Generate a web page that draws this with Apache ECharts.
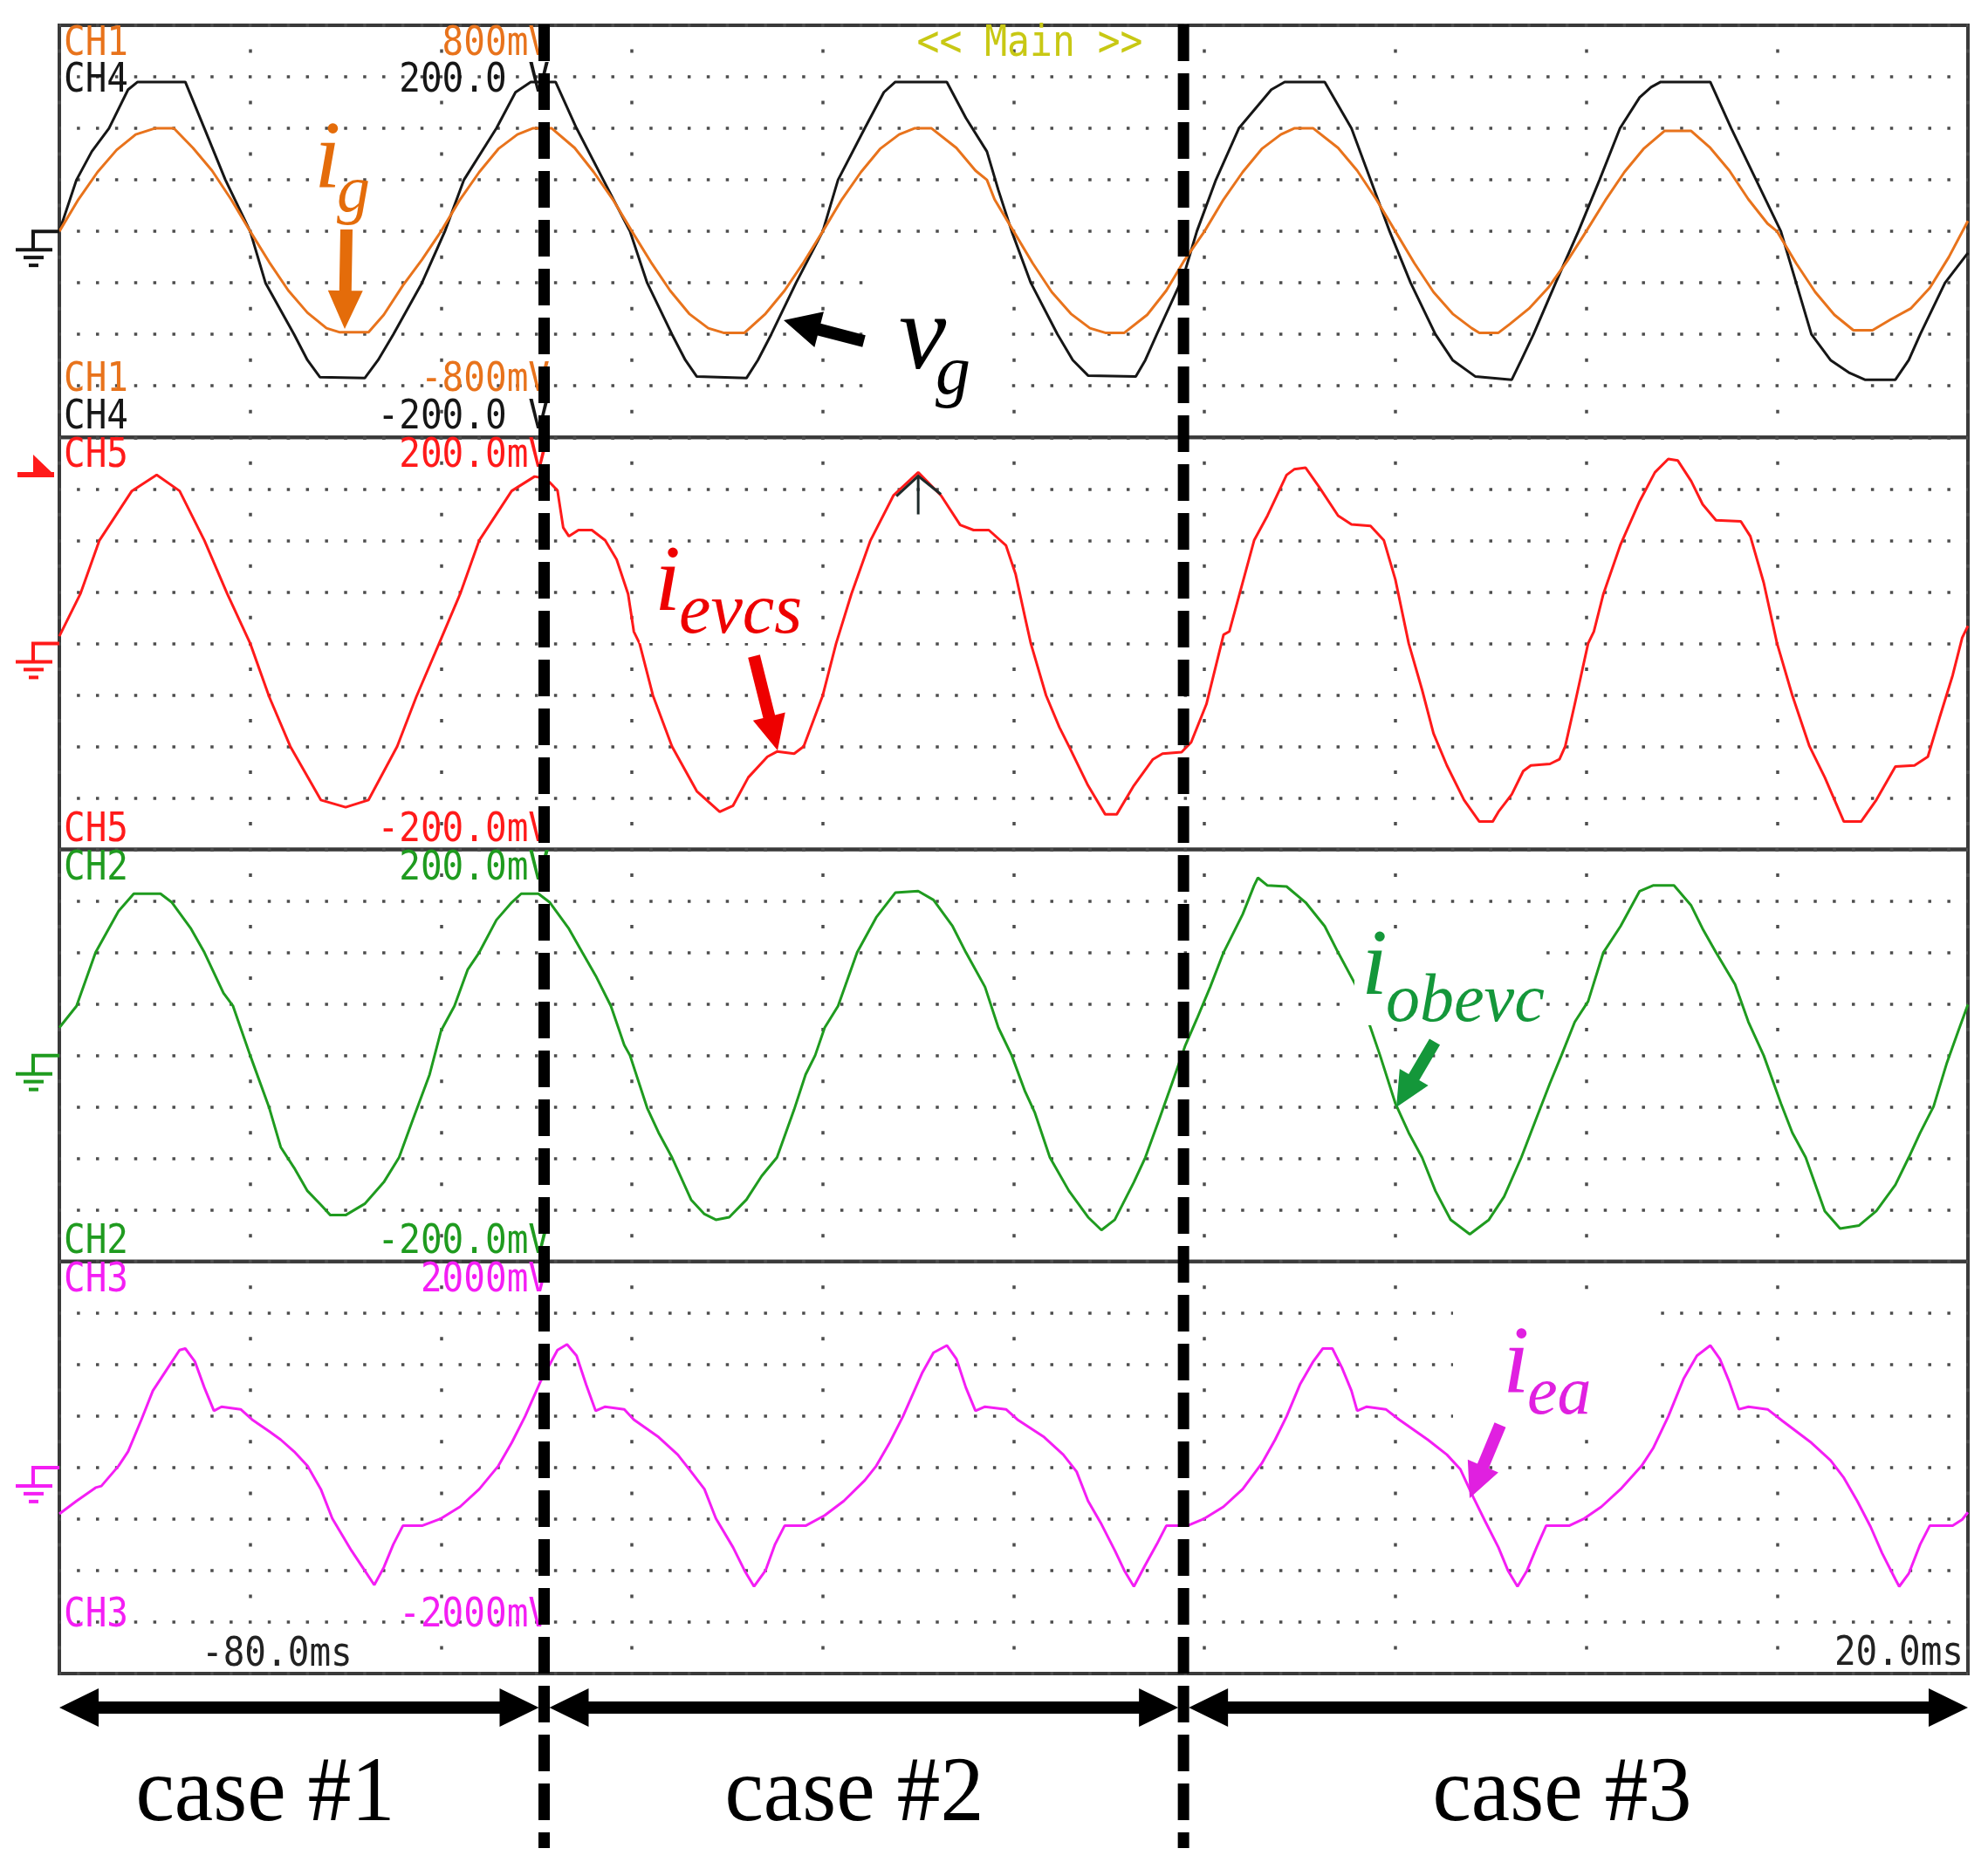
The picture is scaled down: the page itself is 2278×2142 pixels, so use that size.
<!DOCTYPE html>
<html><head><meta charset="utf-8">
<script src="https://cdn.jsdelivr.net/npm/echarts@6/dist/echarts.min.js"></script>
<style>html,body{margin:0;padding:0;background:#fff}#c{width:2278px;height:2142px}</style>
</head><body><div id="c"></div>
<script>
// ---- data (time in ms, amplitude in screen divisions) ----
const timeRange = [-80, 20];
const caseBoundaries = [-54.6, -21.1];
const caseLabels = ['case #1', 'case #2', 'case #3'];
const timeLabels = ['-80.0ms', '20.0ms'];
const panelTopLabels = [[['CH1','800mV'],['CH4','200.0 V']], [['CH5','200.0mV']], [['CH2','200.0mV']], [['CH3','2000mV']]];
const panelBottomLabels = [[['CH1','-800mV'],['CH4','-200.0 V']], [['CH5','-200.0mV']], [['CH2','-200.0mV']], [['CH3','-2000mV']]];
const cursorPoint = [-35.0, 3.25];

const igData = [[-80,0],[-79,0.62],[-78,1.15],[-77,1.58],[-76,1.88],[-75,2.0],[-74,2.0],[-73,1.62],[-72,1.18],[-71,0.62],[-70,0],[-69,-0.6],[-68,-1.15],[-67,-1.58],[-66,-1.88],[-65.3,-1.96],[-63.8,-1.96],[-63,-1.62],[-62,-1.05],[-61,-0.55],[-60,0],[-59,0.62],[-58,1.15],[-57,1.6],[-56,1.88],[-55.2,2.0],[-54.2,2.0],[-53,1.62],[-52,1.15],[-51,0.62],[-50,0],[-49,-0.6],[-48,-1.15],[-47,-1.6],[-46,-1.88],[-45.2,-1.97],[-44.1,-1.97],[-43,-1.6],[-42,-1.15],[-41,-0.6],[-40,0],[-39,0.62],[-38,1.15],[-37,1.6],[-36,1.88],[-35.2,2.0],[-34.3,2.0],[-33,1.62],[-32,1.18],[-31.4,1.0],[-31,0.62],[-30,0],[-29,-0.62],[-28,-1.18],[-27,-1.6],[-26,-1.88],[-25.2,-1.97],[-24.2,-1.97],[-23,-1.62],[-22,-1.15],[-21.1,-0.59],[-20,0],[-19,0.62],[-18,1.15],[-17,1.6],[-16,1.88],[-15.3,2.0],[-14.3,2.0],[-13,1.62],[-12,1.18],[-11,0.62],[-10,0],[-9,-0.62],[-8,-1.18],[-7,-1.6],[-6,-1.88],[-5.6,-1.97],[-4.6,-1.97],[-4,-1.8],[-3,-1.5],[-2,-1.1],[-1,-0.58],[0,0],[1,0.6],[2,1.15],[3,1.6],[4.1,1.95],[5.5,1.95],[6.5,1.62],[7.5,1.18],[8.5,0.62],[9.5,0.15],[10,0],[11,-0.62],[12,-1.18],[13,-1.62],[14,-1.92],[15,-1.92],[16,-1.7],[17,-1.5],[18,-1.1],[19,-0.5],[20,0.2]];

const vgData = [[-80,0],[-79.1,1.0],[-78.3,1.55],[-77.4,2.0],[-76.4,2.75],[-75.9,2.9],[-73.4,2.9],[-72.4,2.0],[-71.3,1.0],[-70.0,0],[-69.2,-1.0],[-67.7,-2.0],[-67.0,-2.5],[-66.35,-2.83],[-64.0,-2.85],[-63.3,-2.5],[-62.5,-2.0],[-61.0,-1.0],[-59.8,0],[-58.8,1.0],[-57.1,2.0],[-56.1,2.7],[-55.3,2.9],[-54.0,2.9],[-52.9,2.0],[-51.5,1.0],[-50.1,0],[-49.2,-1.0],[-47.9,-2.0],[-47.2,-2.5],[-46.6,-2.82],[-44.0,-2.85],[-43.4,-2.5],[-42.7,-2.0],[-41.4,-1.0],[-40.0,0],[-39.2,1.0],[-37.8,2.0],[-36.8,2.7],[-36.2,2.9],[-33.5,2.9],[-32.5,2.2],[-31.4,1.55],[-30.8,0.8],[-30.1,0],[-29.1,-1.0],[-27.7,-2.0],[-26.9,-2.5],[-26.1,-2.8],[-23.6,-2.82],[-23.1,-2.5],[-22.5,-2.0],[-21.1,-0.87],[-20.4,0],[-19.4,1.0],[-18.2,2.0],[-16.5,2.75],[-15.8,2.9],[-13.7,2.9],[-12.3,2.0],[-11.3,1.0],[-10.3,0],[-9.2,-1.0],[-7.9,-2.0],[-7.0,-2.5],[-5.8,-2.82],[-3.9,-2.88],[-3.4,-2.5],[-2.76,-2.0],[-1.6,-1.0],[-0.41,0],[0.7,1.0],[1.77,2.0],[2.8,2.6],[3.4,2.8],[3.9,2.9],[6.5,2.9],[7.6,2.0],[8.9,1.0],[10.2,0],[11.0,-1.0],[11.8,-2.0],[12.8,-2.5],[13.8,-2.75],[14.6,-2.88],[16.2,-2.88],[16.9,-2.5],[17.5,-2.0],[18.8,-1.0],[20,-0.42]];

const ievcsData = [[-80,0.14],[-78.9,0.96],[-77.9,2.0],[-76.2,2.96],[-74.9,3.27],[-73.7,2.96],[-72.4,2.0],[-71.2,0.96],[-70.0,0],[-69.0,-1.04],[-67.9,-2.0],[-66.3,-3.04],[-65.0,-3.18],[-63.8,-3.04],[-62.3,-2.0],[-61.3,-1.04],[-60.1,0],[-59.0,0.96],[-58.0,2.0],[-56.3,2.96],[-55.1,3.24],[-54.5,3.2],[-53.9,2.97],[-53.6,2.25],[-53.3,2.08],[-52.8,2.2],[-52.1,2.2],[-51.4,2.0],[-50.8,1.63],[-50.2,0.96],[-49.9,0.23],[-49.6,0],[-48.9,-1.01],[-47.9,-2.0],[-46.6,-2.87],[-45.4,-3.27],[-44.7,-3.15],[-43.9,-2.6],[-42.9,-2.2],[-42.4,-2.1],[-41.5,-2.14],[-41.0,-2.0],[-40.0,-1.01],[-39.3,0],[-38.5,0.96],[-37.5,2.0],[-36.3,2.87],[-35.0,3.32],[-33.8,2.87],[-32.8,2.3],[-32.1,2.2],[-31.3,2.2],[-30.4,1.9],[-29.9,1.35],[-29.4,0.5],[-29.1,0],[-28.3,-1.01],[-27.6,-1.63],[-27.1,-2.0],[-26.1,-2.76],[-25.2,-3.32],[-24.6,-3.32],[-23.7,-2.76],[-22.7,-2.25],[-22.2,-2.14],[-21.2,-2.11],[-20.7,-1.92],[-19.9,-1.18],[-19.0,0.17],[-18.7,0.23],[-18.0,1.18],[-17.4,2.0],[-16.7,2.48],[-15.7,3.27],[-15.3,3.38],[-14.7,3.41],[-14.0,3.04],[-13.0,2.48],[-12.3,2.31],[-11.3,2.28],[-10.6,2.0],[-10.0,1.24],[-9.3,0],[-8.6,-0.9],[-8.0,-1.75],[-7.3,-2.37],[-6.4,-3.04],[-5.6,-3.46],[-4.9,-3.46],[-4.6,-3.27],[-3.9,-2.93],[-3.3,-2.48],[-2.9,-2.37],[-1.9,-2.34],[-1.4,-2.25],[-1.1,-2.0],[-0.6,-1.18],[0.1,0],[0.4,0.23],[0.9,0.96],[1.8,1.92],[2.8,2.76],[3.6,3.32],[4.3,3.58],[4.8,3.55],[5.5,3.15],[6.1,2.7],[6.8,2.39],[8.1,2.37],[8.6,2.08],[9.3,1.18],[10.0,0],[10.8,-1.01],[11.7,-2.0],[12.5,-2.6],[13.5,-3.46],[14.4,-3.46],[15.2,-3.04],[16.2,-2.39],[17.2,-2.37],[17.9,-2.2],[18.5,-1.46],[19.2,-0.62],[19.7,0.11],[20,0.34]];

const iobevcData = [[-80,0.54],[-79.1,0.96],[-78.1,2.0],[-76.9,2.8],[-76.1,3.14],[-74.7,3.14],[-74.1,2.97],[-73.1,2.46],[-72.4,2.0],[-71.4,1.21],[-70.9,0.96],[-70.0,0],[-69.0,-1.02],[-68.4,-1.78],[-67.7,-2.18],[-67.0,-2.63],[-66.3,-2.9],[-65.8,-3.1],[-65.0,-3.1],[-64.0,-2.88],[-63.0,-2.46],[-62.2,-1.98],[-61.5,-1.27],[-60.6,-0.37],[-60.0,0.48],[-59.3,0.96],[-58.6,1.67],[-58.0,2.0],[-57.1,2.63],[-56.3,2.97],[-55.8,3.14],[-54.9,3.14],[-54.3,2.97],[-53.3,2.46],[-52.6,2.0],[-51.9,1.55],[-51.1,0.96],[-50.4,0.2],[-50.1,0],[-49.2,-1.02],[-48.6,-1.5],[-47.9,-1.98],[-46.9,-2.8],[-46.2,-3.08],[-45.6,-3.19],[-44.9,-3.14],[-44.0,-2.8],[-43.2,-2.34],[-42.4,-1.98],[-41.5,-1.05],[-40.9,-0.37],[-40.4,0],[-39.9,0.54],[-39.2,0.96],[-38.2,2.0],[-37.2,2.68],[-36.2,3.16],[-35.0,3.19],[-34.2,3.02],[-33.2,2.51],[-32.5,2.0],[-31.5,1.33],[-30.8,0.54],[-30.1,0],[-29.4,-0.7],[-28.9,-1.1],[-28.1,-1.98],[-27.1,-2.63],[-26.1,-3.14],[-25.4,-3.39],[-24.7,-3.19],[-23.7,-2.46],[-23.1,-1.98],[-22.4,-1.27],[-21.7,-0.54],[-21.0,0.2],[-20.4,0.71],[-19.7,1.33],[-19.0,2.0],[-18.0,2.74],[-17.4,3.3],[-17.2,3.45],[-16.7,3.3],[-15.7,3.28],[-14.7,2.97],[-13.7,2.51],[-13.0,2.0],[-12.1,1.38],[-11.3,0.54],[-10.8,0],[-10.0,-0.93],[-9.3,-1.5],[-8.6,-1.98],[-7.9,-2.63],[-7.1,-3.19],[-6.1,-3.47],[-5.1,-3.19],[-4.3,-2.74],[-3.4,-1.98],[-2.6,-1.21],[-1.9,-0.54],[-1.3,0],[-0.6,0.65],[0.1,1.05],[0.9,2.0],[1.8,2.51],[2.8,3.19],[3.5,3.3],[4.6,3.3],[5.5,2.91],[6.1,2.46],[6.8,2.0],[7.8,1.38],[8.5,0.65],[9.3,0],[10.2,-0.93],[10.8,-1.5],[11.5,-1.98],[12.5,-3.02],[13.3,-3.36],[14.3,-3.3],[15.2,-3.02],[16.2,-2.51],[16.9,-1.98],[17.5,-1.5],[18.2,-0.99],[18.9,-0.14],[19.5,0.48],[20,0.99]];

const ieaData = [[-80,-0.9],[-79.1,-0.65],[-78.1,-0.39],[-77.8,-0.36],[-76.9,0.03],[-76.4,0.31],[-75.7,0.93],[-75.1,1.49],[-74.2,2.0],[-73.7,2.28],[-73.4,2.31],[-72.9,2.06],[-72.4,1.55],[-71.9,1.1],[-71.5,1.18],[-70.5,1.13],[-69.9,0.93],[-69.0,0.7],[-68.4,0.54],[-67.7,0.31],[-67.0,0.03],[-66.3,-0.42],[-65.7,-0.99],[-64.7,-1.61],[-64.0,-2.0],[-63.5,-2.28],[-63.0,-1.94],[-62.5,-1.49],[-62.0,-1.13],[-61.0,-1.13],[-60.0,-0.99],[-59.0,-0.76],[-58.0,-0.42],[-57.0,0.03],[-56.3,0.48],[-55.6,0.99],[-54.8,1.66],[-53.9,2.28],[-53.4,2.39],[-52.9,2.17],[-52.4,1.61],[-51.9,1.1],[-51.4,1.18],[-50.4,1.13],[-49.9,0.93],[-48.6,0.59],[-47.6,0.25],[-46.9,-0.08],[-46.2,-0.42],[-45.6,-0.99],[-44.7,-1.55],[-44.1,-2.0],[-43.6,-2.31],[-43.0,-2.0],[-42.5,-1.49],[-42.0,-1.13],[-40.9,-1.13],[-39.9,-0.93],[-38.9,-0.65],[-37.8,-0.25],[-37.2,0.03],[-36.5,0.48],[-35.8,0.99],[-34.8,1.83],[-34.2,2.23],[-33.5,2.37],[-33.0,2.11],[-32.5,1.55],[-32.0,1.1],[-31.5,1.18],[-30.4,1.13],[-29.8,0.93],[-28.4,0.59],[-27.4,0.25],[-26.7,-0.08],[-26.1,-0.65],[-25.4,-1.1],[-24.7,-1.61],[-24.2,-2.0],[-23.7,-2.31],[-23.1,-1.89],[-22.5,-1.49],[-22.0,-1.13],[-20.9,-1.13],[-20.0,-0.99],[-19.0,-0.76],[-18.0,-0.42],[-17.0,0.08],[-16.3,0.54],[-15.7,0.99],[-15.0,1.61],[-14.3,2.06],[-13.8,2.31],[-13.3,2.31],[-12.8,1.94],[-12.3,1.49],[-12.0,1.1],[-11.5,1.18],[-10.5,1.13],[-9.8,0.93],[-8.3,0.54],[-7.3,0.25],[-6.6,-0.03],[-5.9,-0.59],[-5.3,-1.04],[-4.6,-1.55],[-4.1,-2.0],[-3.6,-2.31],[-3.1,-2.0],[-2.6,-1.55],[-2.1,-1.13],[-0.9,-1.13],[-0.1,-0.99],[0.8,-0.76],[1.8,-0.42],[2.9,0.03],[3.5,0.37],[4.3,0.99],[5.1,1.72],[5.8,2.17],[6.5,2.37],[7.0,2.11],[7.5,1.66],[8.0,1.13],[8.5,1.18],[9.5,1.13],[10.3,0.9],[11.8,0.48],[12.8,0.14],[13.5,-0.2],[14.2,-0.65],[14.9,-1.15],[15.5,-1.66],[16.2,-2.17],[16.4,-2.31],[16.9,-2.06],[17.5,-1.49],[18.0,-1.13],[19.2,-1.13],[19.7,-1.01],[20,-0.87]];

// ---- styling / layout ----
const L = 68, T = 29, W = 2187, PH = 472.25;
const DOT = '#4d4d4d';
const C_ORANGE = '#e8731c', C_BLACK = '#161616', C_RED = '#ff1a1a', C_GREEN = '#1f9b1f', C_MAG = '#f41ef4';
const panelColors = [[C_ORANGE, C_BLACK], [C_RED], [C_GREEN], [C_MAG]];
const groundColors = [C_BLACK, C_RED, C_GREEN, C_MAG];

const chart = echarts.init(document.getElementById('c'), null, {renderer: 'canvas', width: 2278, height: 2142});

const grids = [0,1,2,3].map(i => ({left: L, top: T + i*PH, width: W, height: PH, show: true,
  borderColor: '#3a3a3a', borderWidth: 4, backgroundColor: 'rgba(0,0,0,0)', outerBoundsMode: 'none'}));
const xAxes = [0,1,2,3].map(i => ({gridIndex: i, type: 'value', min: timeRange[0], max: timeRange[1], interval: 10,
  axisLine: {show: false}, axisTick: {show: false}, axisLabel: {show: false},
  splitLine: {show: true, lineStyle: {color: DOT, width: 3.5, type: [4, PH/8 - 4], dashOffset: PH/16 + 2}}}));
const yAxes = [0,1,2,3].map(i => ({gridIndex: i, type: 'value', min: -4, max: 4, interval: 1,
  axisLine: {show: false}, axisTick: {show: false}, axisLabel: {show: false},
  splitLine: {show: true, lineStyle: {color: DOT, width: 3.5, type: [3.5, W/100 - 3.5], dashOffset: 1.75}}}));

function lineSeries(name, idx, data, color, z) {
  return {name, type: 'line', xAxisIndex: idx, yAxisIndex: idx, data, showSymbol: false, symbol: 'none',
    lineStyle: {color, width: 3}, itemStyle: {color}, z, silent: true, clip: true, animation: false};
}

chart.setOption({
  animation: false,
  backgroundColor: '#ffffff',
  grid: grids, xAxis: xAxes, yAxis: yAxes,
  series: [
    lineSeries('v_g', 0, vgData, C_BLACK, 2),
    lineSeries('i_g', 0, igData, C_ORANGE, 3),
    lineSeries('i_evcs', 1, ievcsData, C_RED, 2),
    lineSeries('i_obevc', 2, iobevcData, C_GREEN, 2),
    lineSeries('i_ea', 3, ieaData, C_MAG, 2)
  ]
});

// ---- annotations ----
const px = t => chart.convertToPixel({xAxisIndex: 0}, t);
const xb = caseBoundaries.map(px);
const x0 = px(timeRange[0]), x1 = px(timeRange[1]);
const g = [];
const MONO = '41px "DejaVu Sans Mono"';

function txt(s, x, y, fill, font, align, z, sy) {
  const el = {type: 'text', z: z || 7, silent: true, style: {text: s, x, y, fill, font, align: align || 'left', verticalAlign: 'middle'}};
  if (sy) { el.scaleY = sy; el.originX = x; el.originY = y; }
  return el;
}
function seg(xa, ya, xb2, yb, stroke, lw, z) {
  return {type: 'line', z: z || 7, silent: true, shape: {x1: xa, y1: ya, x2: xb2, y2: yb}, style: {stroke, lineWidth: lw}};
}
function arrow(tx, ty, hx, hy, color, sw, hl, hw) {
  const dx = hx - tx, dy = hy - ty, len = Math.hypot(dx, dy);
  const ux = dx/len, uy = dy/len, nx = -uy, ny = ux;
  const bx = hx - ux*hl, by = hy - uy*hl;
  const pts = [[tx+nx*sw/2, ty+ny*sw/2], [bx+nx*sw/2, by+ny*sw/2], [bx+nx*hw/2, by+ny*hw/2], [hx, hy],
    [bx-nx*hw/2, by-ny*hw/2], [bx-nx*sw/2, by-ny*sw/2], [tx-nx*sw/2, ty-ny*sw/2]];
  return {type: 'polygon', z: 7, silent: true, shape: {points: pts}, style: {fill: color}};
}
function dblArrow(xa, xe, y) {
  const hl = 45, hw = 44, sw = 14;
  const pts = [[xa, y], [xa+hl, y-hw/2], [xa+hl, y-sw/2], [xe-hl, y-sw/2], [xe-hl, y-hw/2], [xe, y],
    [xe-hl, y+hw/2], [xe-hl, y+sw/2], [xa+hl, y+sw/2], [xa+hl, y+hw/2]];
  return {type: 'polygon', z: 7, silent: true, shape: {points: pts}, style: {fill: '#000'}};
}

// white label backgrounds
[[733,623,206,114],[1552,1075,216,100],[1665,1497,220,130],[990,310,160,160]].forEach(r => {
  g.push({type: 'rect', z: 5, silent: true, shape: {x: r[0], y: r[1], width: r[2], height: r[3]}, style: {fill: '#fff'}});
});

// channel labels
const MSY = 1.14;
panelTopLabels.forEach((rows, i) => {
  const top = T + i*PH;
  rows.forEach((r, k) => {
    const y = top + 22 + k*42;
    g.push(txt(r[0], 73, y, panelColors[i][k], MONO, 'left', 7, MSY));
    g.push(txt(r[1], 630, y, panelColors[i][k], MONO, 'right', 7, MSY));
  });
});
panelBottomLabels.forEach((rows, i) => {
  const bot = T + (i+1)*PH;
  const n = rows.length;
  rows.forEach((r, k) => {
    let y = bot - 22 - (n - 1 - k)*43;
    if (i === 3) y = bot - 66;
    g.push(txt(r[0], 73, y, panelColors[i][k], MONO, 'left', 7, MSY));
    g.push(txt(r[1], 630, y, panelColors[i][k], MONO, 'right', 7, MSY));
  });
});
g.push(txt(timeLabels[0], 231, T + 4*PH - 21, '#222', MONO, 'left', 7, MSY));
g.push(txt(timeLabels[1], 2250, T + 4*PH - 22, '#222', MONO, 'right', 7, MSY));
g.push(txt('<< Main >>', 1180, 51, '#c8c814', '43px "DejaVu Sans Mono"', 'center', 7, MSY));

// ground symbols
groundColors.forEach((c, i) => {
  const cy = T + PH*(i + 0.5);
  g.push({type: 'polyline', z: 7, silent: true, shape: {points: [[68, cy], [38, cy], [38, cy+21]]}, style: {stroke: c, lineWidth: 4, fill: null}});
  g.push(seg(18, cy+21, 60, cy+21, c, 4));
  g.push(seg(27, cy+30, 50, cy+30, c, 4));
  g.push(seg(33, cy+39, 44, cy+39, c, 4));
});
// trigger marker (panel 2)
g.push({type: 'polygon', z: 7, silent: true, shape: {points: [[38, 521], [38, 544], [62, 544]]}, style: {fill: C_RED}});
g.push({type: 'rect', z: 7, silent: true, shape: {x: 20, y: 541, width: 42, height: 6}, style: {fill: C_RED}});
// cursor marker
const cp = chart.convertToPixel({gridIndex: 1}, cursorPoint);
g.push({type: 'polyline', z: 7, silent: true, shape: {points: [[cp[0]-25, cp[1]+23], cp, [cp[0]+26, cp[1]+21]]}, style: {stroke: '#1e2b2b', lineWidth: 3, fill: null}});
g.push(seg(cp[0], cp[1], cp[0], cp[1]+44, '#1e2b2b', 3));

// annotation labels
const SER = s => 'italic ' + s + 'px "Liberation Serif"';
g.push(txt('i', 360, 185, '#e46c0a', SER(110)));
g.push(txt('g', 386, 222, '#e46c0a', SER(76)));
g.push(arrow(397, 263, 395, 377, '#e46c0a', 14, 44, 40));
g.push(txt('v', 1030, 390, '#000', SER(122)));
g.push(txt('g', 1072, 430, '#000', SER(80)));
g.push(arrow(990, 391, 898, 367, '#000', 14, 42, 42));
g.push(txt('i', 750, 671, '#ee0000', SER(108)));
g.push(txt('evcs', 778, 703, '#ee0000', SER(82)));
g.push(arrow(864, 752, 891, 860, '#ee0000', 14, 40, 38));
g.push(txt('i', 1560, 1111, '#14973a', SER(108)));
g.push(txt('obevc', 1588, 1149, '#14973a', SER(78)));
g.push(arrow(1644, 1194, 1600, 1269, '#14973a', 14, 40, 38));
g.push(txt('i', 1722, 1566, '#e020e0', SER(110)));
g.push(txt('ea', 1750, 1599, '#e020e0', SER(78)));
g.push(arrow(1719, 1633, 1684, 1717, '#e020e0', 14, 40, 38));

// case boundaries (dashed)
xb.forEach(x => g.push({type: 'line', z: 9, silent: true, shape: {x1: x, y1: 28, x2: x, y2: 2118},
  style: {stroke: '#000', lineWidth: 13, lineDash: [42, 14]}}));
// case arrows and labels
const arrowY = 1957;
const segs = [[x0, xb[0]-6], [xb[0]+6, xb[1]-6], [xb[1]+6, x1]];
segs.forEach(s => g.push(dblArrow(s[0], s[1], arrowY)));
const caseLabelX = [304, 979, 1790];
caseLabels.forEach((s, i) => g.push(txt(s, caseLabelX[i], 2058, '#000', '100px "Liberation Serif"', 'center', 7, 1.06)));

chart.setOption({graphic: g});
</script>
</body></html>
